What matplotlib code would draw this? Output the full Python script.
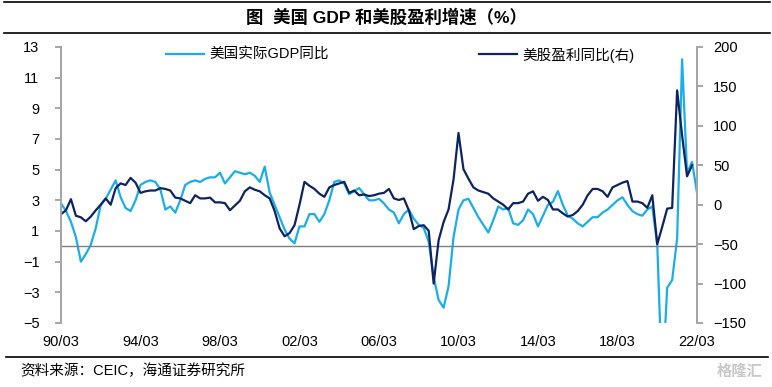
import matplotlib.pyplot as plt
from matplotlib.lines import Line2D
import numpy as np

plt.rcParams['font.family'] = ['Liberation Sans', 'Noto Sans CJK SC']

# 美国实际GDP同比（%），季度，1990Q1 - 2022Q1
gdp = [2.8, 2.3, 1.6, 0.6, -1.0, -0.5, 0.1, 1.2, 2.7, 3.1, 3.7, 4.3, 3.2, 2.5, 2.3, 3.0,
       4.0, 4.2, 4.3, 4.2, 3.7, 2.4, 2.6, 2.2, 3.0, 4.0, 4.2, 4.3, 4.2, 4.4, 4.5, 4.5,
       4.8, 4.1, 4.5, 4.9, 4.8, 4.7, 4.8, 4.6, 4.2, 5.2, 3.5, 2.7, 1.9, 1.1, 0.5, 0.2,
       1.3, 1.3, 2.1, 2.1, 1.6, 2.1, 3.0, 4.2, 4.3, 4.1, 3.4, 3.6, 3.8, 3.4, 3.0, 3.0,
       3.1, 2.8, 2.4, 2.2, 1.5, 2.1, 2.4, 1.8, 1.4, 1.2, 0.3, -2.0, -3.5, -4.0, -2.6, 0.6,
       2.4, 3.0, 3.1, 2.5, 1.9, 1.4, 0.9, 1.7, 2.6, 2.4, 2.5, 1.5, 1.4, 1.7, 2.4, 2.1,
       1.3, 2.0, 2.7, 2.9, 3.6, 2.7, 2.0, 1.8, 1.5, 1.3, 1.6, 1.9, 1.9, 2.2, 2.4, 2.7,
       3.0, 3.2, 2.7, 2.3, 2.1, 2.0, 2.4, 2.6, 0.1, -9.0, -2.7, -2.2, 0.5, 12.2, 4.8, 5.5,
       3.5]

# 美股盈利同比（%，右轴），季度，1990Q1 - 2021Q4
earn = [-12, -7, 7, -14, -16, -21, -15, -7, 0, 8, 0, 21, 27, 25, 34, 28,
        15, 17, 18, 18, 21, 20, 18, 9, 8, 5, 2, 12, 8, 8, 9, 3,
        3, 2, -7, -1, 5, 17, 22, 19, 17, 12, 8, -8, -30, -40, -36, -26,
        0, 29, 24, 20, 14, 10, 22, 25, 27, 29, 15, 18, 12, 13, 11, 12,
        14, 15, 20, 8, 6, 8, -7, -31, -27, -26, -33, -100, -45, -22, -6, 32,
        91, 45, 33, 22, 18, 16, 14, 8, 4, 0, -6, 2, 2, 4, 14, 17,
        5, 10, 6, -6, -6, -11, -15, -13, -8, 0, 12, 20, 20, 17, 10, 22,
        25, 28, 30, 4, 4, 2, -4, 12, -50, -28, -5, -4, 145, 88, 36, 50]

tick_labels = ['90/03', '94/03', '98/03', '02/03', '06/03', '10/03', '14/03', '18/03', '22/03']

light_blue = '#1AAEE8'
navy = '#0E2462'
grey = '#A6A6A6'

fig = plt.figure(figsize=(7.72, 3.87), dpi=100)
ax = fig.add_axes([61 / 772, 1 - 323 / 387, 636 / 772, 276 / 387])
ax2 = ax.twinx()

ax.plot(np.arange(len(gdp)), gdp, color=light_blue, lw=1.6, solid_joinstyle='round')
ax2.plot(np.arange(len(earn)), earn, color=navy, lw=1.6, solid_joinstyle='round')
ax.axhline(0, color='#7F7F7F', lw=1.0)

ax.set_xlim(0, 128)
ax.set_ylim(-5, 13)
ax2.set_ylim(-150, 200)
ax.set_yticks(np.arange(-5, 14, 2))
ax2.set_yticks(np.arange(-150, 201, 50))
ax.set_xticks(np.arange(0, 129, 16))
ax.set_xticklabels(tick_labels)

for a in (ax, ax2):
    for s in ('top', 'bottom'):
        a.spines[s].set_visible(False)
    a.spines['left'].set_color(grey)
    a.spines['right'].set_color(grey)
    a.spines['left'].set_linewidth(1.4)
    a.spines['right'].set_linewidth(1.4)
    a.tick_params(axis='y', colors='black', labelsize=10.5, length=4.5, width=1.4, color=grey)
ax.tick_params(axis='y', pad=11)
ax2.tick_params(axis='y', pad=7)
ax.tick_params(axis='x', length=0, labelsize=10.5, pad=9)

h1 = Line2D([], [], color=light_blue, lw=1.6)
h2 = Line2D([], [], color=navy, lw=1.6)
leg1 = fig.legend([h1], ['美国实际GDP同比'], loc='center left', bbox_to_anchor=(166 / 772, 1 - 55 / 387),
                  frameon=False, fontsize=10.5, handlelength=2.6, handletextpad=0.35,
                  borderpad=0, borderaxespad=0)
leg2 = fig.legend([h2], ['美股盈利同比(右)'], loc='center left', bbox_to_anchor=(479 / 772, 1 - 55 / 387),
                  frameon=False, fontsize=10.5, handlelength=2.6, handletextpad=0.35,
                  borderpad=0, borderaxespad=0)

fig.text(0.5, 1 - 17 / 387, '图  美国 GDP 和美股盈利增速（%）', ha='center', va='center',
         fontsize=12.5, fontweight='bold')
fig.add_artist(Line2D([4 / 772, 770 / 772], [1 - 2 / 387] * 2, color='black', lw=1.2))
fig.add_artist(Line2D([4 / 772, 770 / 772], [1 - 33 / 387] * 2, color='black', lw=1.2))
fig.add_artist(Line2D([6 / 772, 768 / 772], [1 - 357 / 387] * 2, color='black', lw=1.2))
fig.text(20 / 772, 1 - 371 / 387, '资料来源：CEIC，海通证券研究所', ha='left', va='center', fontsize=10.5)
fig.text(762 / 772, 1 - 372 / 387, '格隆汇', ha='right', va='center', fontsize=11,
         color='#C8C8C8', fontweight='bold')

fig.savefig('out.png', dpi=100)
